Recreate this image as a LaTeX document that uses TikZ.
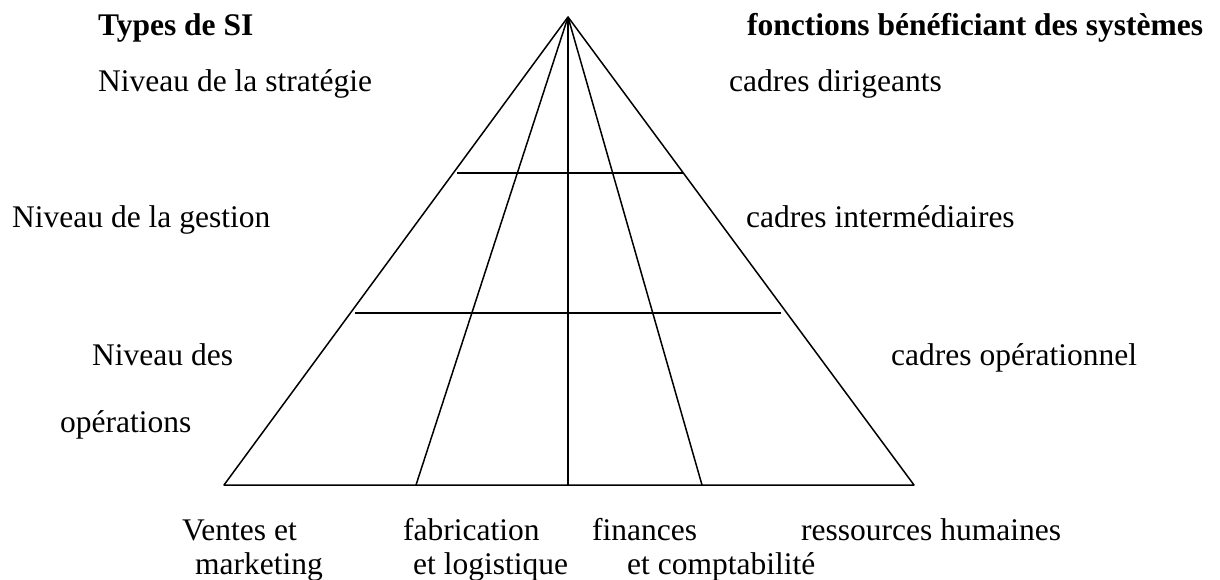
\documentclass[tikz,border=0pt]{standalone}
\usepackage{fontspec}
\setmainfont{Liberation Serif}
\begin{document}
\begin{tikzpicture}[x=1pt,y=-1pt,
  edge/.style={line width=1.5pt,line join=round},
  lbl/.style={anchor=base west,inner sep=0pt,font=\fontsize{31.5}{33}\selectfont},
  head/.style={lbl,font=\fontsize{31.5}{33}\selectfont\bfseries}]
\useasboundingbox (0,0) rectangle (1220,580);

% pyramid corners and division points
\coordinate (apex) at (568,17);
\coordinate (bl)  at (224,485);
\coordinate (bil) at (416,485);
\coordinate (bc)  at (568,485);
\coordinate (bir) at (702,485);
\coordinate (br)  at (914,485);
\coordinate (h1l) at (457,173);
\coordinate (h1r) at (683,173);
\coordinate (h2l) at (355,313);
\coordinate (h2r) at (781,313);

% outline, function sectors and level separators
\draw[edge] (apex) -- (bl) -- (br) -- cycle;
\draw[edge] (apex) -- (bil);
\draw[edge] (apex) -- (bc);
\draw[edge] (apex) -- (bir);
\draw[edge] (h1l) -- (h1r);
\draw[edge] (h2l) -- (h2r);

% column headings
\node[head] (typesi) at (98,36) {Types de SI};
\node[head] (fonct) at (747,36) {fonctions bénéficiant des systèmes};

% levels (left) and managers (right)
\node[lbl] (strat) at (98,92) {Niveau de la stratégie};
\node[lbl] (dirig) at (729,92) {cadres dirigeants};
\node[lbl] (gest) at (12,227) {Niveau de la gestion};
\node[lbl] (inter) at (746,227) {cadres intermédiaires};
\node[lbl] (ops1) at (92,365) {Niveau des};
\node[lbl] (ops2) at (60,432) {opérations};
\node[lbl] (oper) at (891,365) {cadres opérationnel};

% functions along the base
\node[lbl] (vent1) at (182,540) {Ventes et};
\node[lbl] (vent2) at (195,574) {marketing};
\node[lbl] (fab1) at (403,540) {fabrication};
\node[lbl] (fab2) at (413,574) {et logistique};
\node[lbl] (fin1) at (592,540) {finances};
\node[lbl] (fin2) at (627,574) {et comptabilité};
\node[lbl] (rh) at (801,540) {ressources humaines};
\end{tikzpicture}
\end{document}
